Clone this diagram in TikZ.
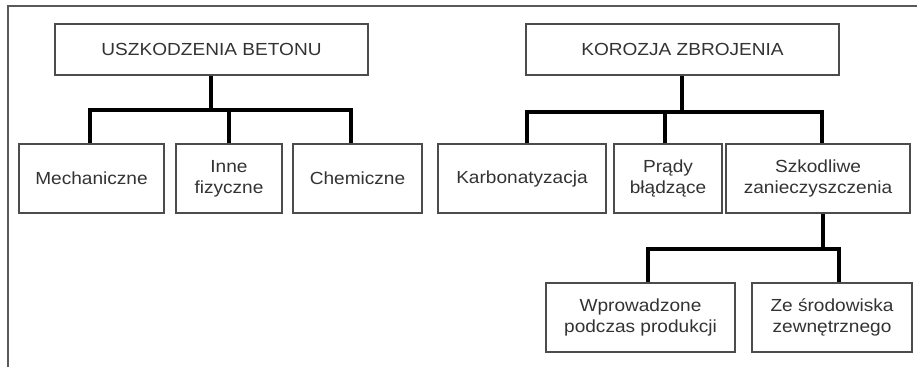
\documentclass[tikz,border=0pt]{standalone}
\usepackage{fontspec}
\setmainfont{Liberation Sans}[FakeStretch=1.09]
\begin{document}
\begin{tikzpicture}[x=1pt,y=-1pt,
  box/.style={draw=black!70,line width=1.4pt,fill=white,text=black!80,
    align=center,inner sep=0pt,
    font=\fontsize{17.5}{20.7}\selectfont},
  conn/.style={line width=3.8pt,black,line join=miter},
  frame/.style={line width=1.8pt,black!65}]
\useasboundingbox (0,0) rectangle (917,367);
\draw[frame] (8,367) -- (8,6) -- (917,6);
% top boxes
\node[box,minimum width=313pt,minimum height=51pt] (b1) at (211.5,49.5) {USZKODZENIA BETONU};
\node[box,minimum width=313pt,minimum height=51pt] (b2) at (682.5,49.5) {KOROZJA ZBROJENIA};
% second level
\node[box,minimum width=145pt,minimum height=69pt] (m) at (91.5,178.5) {Mechaniczne};
\node[box,minimum width=106pt,minimum height=69pt] (i) at (229,178.5) {Inne\\fizyczne};
\node[box,minimum width=129pt,minimum height=69pt] (c) at (357.5,178.5) {Chemiczne};
\node[box,minimum width=168pt,minimum height=69pt] (k) at (522,178.5) {Karbonatyzacja};
\node[box,minimum width=108pt,minimum height=69pt] (p) at (668,178.5) {Prądy\\błądzące};
\node[box,minimum width=184pt,minimum height=69pt] (s) at (818,178.5) {Szkodliwe\\zanieczyszczenia};
% third level
\node[box,minimum width=189pt,minimum height=69pt] (w) at (640.5,317.5) {Wprowadzone\\podczas produkcji};
\node[box,minimum width=160pt,minimum height=69pt] (z) at (832,317.5) {Ze środowiska\\zewnętrznego};
% junctions
\coordinate (j1) at (211,110);
\coordinate (j2) at (682,112);
\coordinate (j3) at (823,249);
% connectors left tree
\draw[conn] (b1.south -| j1) -- (j1);
\draw[conn] (m.north -| 90,0) -- (90,110) -- (351,110) -- (c.north -| 351,0);
\draw[conn] (i.north) -- (i.north |- j1);
% connectors right tree
\draw[conn] (b2.south -| j2) -- (j2);
\draw[conn] (k.north -| 527,0) -- (527,112) -- (822,112) -- (s.north -| 822,0);
\draw[conn] (p.north -| 665,0) -- (665,112);
% third level connectors
\draw[conn] (s.south -| j3) -- (j3);
\draw[conn] (w.north -| 648,0) -- (648,249) -- (839,249) -- (z.north -| 839,0);
\end{tikzpicture}
\end{document}
